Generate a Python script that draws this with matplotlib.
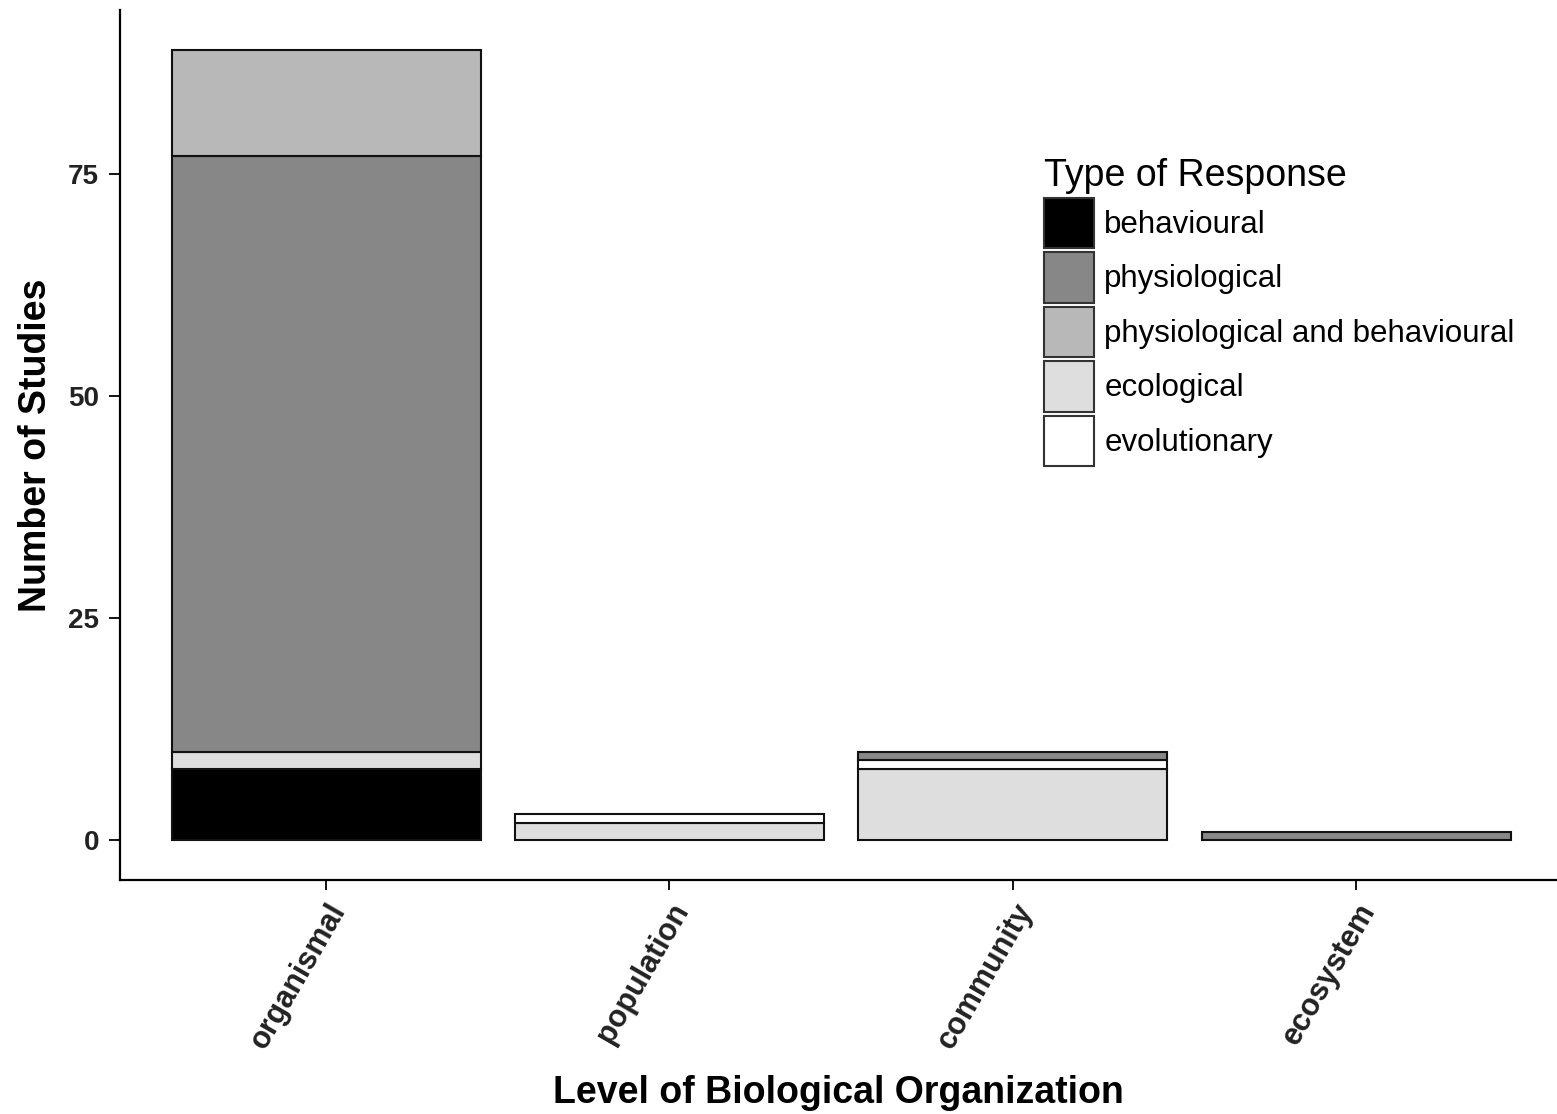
import matplotlib.pyplot as plt
import numpy as np
from matplotlib.patches import Patch

plt.rcParams['font.family'] = ['Liberation Sans', 'DejaVu Sans']

# categories and counts
levels = ['organismal', 'population', 'community', 'ecosystem']
# stacking order bottom -> top (alphabetical, as ggplot does)
stack_order = ['behavioural', 'ecological', 'evolutionary', 'physiological',
               'physiological and behavioural']
legend_order = ['behavioural', 'physiological', 'physiological and behavioural',
                'ecological', 'evolutionary']
behavioural = [8, 0, 0, 0]
ecological = [2, 2, 8, 0]
evolutionary = [0, 1, 1, 0]
physiological = [67, 0, 1, 1]
phys_behav = [12, 0, 0, 0]

counts = {
    'behavioural': behavioural,
    'ecological': ecological,
    'evolutionary': evolutionary,
    'physiological': physiological,
    'physiological and behavioural': phys_behav,
}
colours = {
    'behavioural': '#000000',
    'physiological': '#878787',
    'physiological and behavioural': '#b8b8b8',
    'ecological': '#dedede',
    'evolutionary': '#ffffff',
}

fig = plt.figure(figsize=(15.57, 11.14), dpi=100)
ax = fig.add_axes([120 / 1557, 234 / 1114, 1 - 120 / 1557, 870 / 1114])

x = np.arange(1, len(levels) + 1)
bottom = np.zeros(len(levels))
for name in stack_order:
    vals = np.array(counts[name], dtype=float)
    mask = vals > 0
    ax.bar(x[mask], vals[mask], bottom=bottom[mask], width=0.9,
           color=colours[name], edgecolor='#111111', linewidth=1.5)
    bottom += vals

ax.set_xlim(0.4, 4.585)
ax.set_ylim(-4.45, 93.45)
ax.set_yticks([0, 25, 50, 75])
ax.set_xticks(x)
ax.set_xticklabels(levels, rotation=60, ha='right', va='top',
                   rotation_mode='anchor', fontsize=22, fontweight='bold',
                   color='#222222')
ax.tick_params(axis='y', labelsize=20, labelcolor='#222222', length=8,
               width=1.3, pad=7)
for lab in ax.get_yticklabels():
    lab.set_fontweight('bold')
ax.tick_params(axis='x', length=7, width=1.3, pad=6)

ax.spines['top'].set_visible(False)
ax.spines['right'].set_visible(False)
ax.spines['left'].set_linewidth(1.6)
ax.spines['bottom'].set_linewidth(1.6)

ax.set_xlabel('Level of Biological Organization', fontsize=27, fontweight='bold',
              labelpad=15)
ax.set_ylabel('Number of Studies', fontsize=27, fontweight='bold', labelpad=10)

handles = [Patch(facecolor=colours[n], edgecolor='#333333', linewidth=1.5)
           for n in legend_order]
leg = ax.legend(handles, legend_order, title='Type of Response',
                loc='upper left', bbox_to_anchor=(1044 / 1557, 1 - 158 / 1114),
                bbox_transform=fig.transFigure, frameon=False,
                fontsize=22.5, title_fontsize=27, handlelength=1.6,
                handleheight=2.1, handletextpad=0.33, labelspacing=0.13,
                borderpad=0, borderaxespad=0)
leg._legend_box.align = 'left'

plt.savefig('out.png', dpi=100)
